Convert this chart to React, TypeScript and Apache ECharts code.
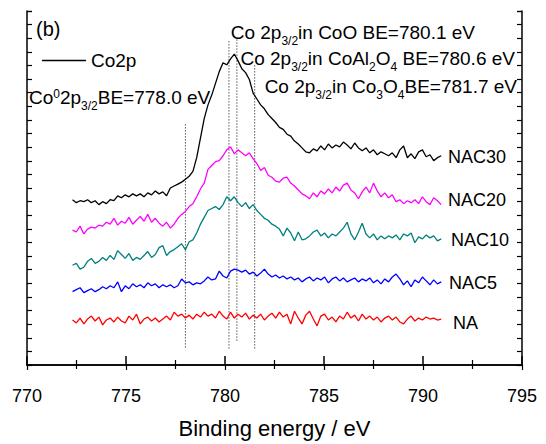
import React, { useEffect, useRef } from "react";
import * as echarts from "echarts";

const FONT = "'Liberation Sans', Arial, Helvetica, sans-serif";

// Binding energy grid of the recorded spectra (eV)
const ENERGY_START = 772.3;
const ENERGY_STEP = 0.19;

const SERIES_NAMES = ["NA", "NAC5", "NAC10", "NAC20", "NAC30"];
const SERIES_COLORS = ["#ff0000", "#0000ff", "#008080", "#ff00ff", "#000000"];

// Intensities (arbitrary units, offset for display)
const NA = [
  46, 43, 48, 42, 47, 50, 45, 49, 41, 46,
  48, 44, 49, 45, 43, 50, 46, 52, 42, 47,
  49, 45, 48, 44, 47, 50, 46, 54, 50, 52,
  48, 51, 47, 52, 49, 54, 50, 52, 48, 55,
  50, 47, 54, 48, 52, 49, 53, 47, 51, 48,
  52, 46, 50, 53, 48, 54, 49, 52, 42, 55,
  48, 42, 51, 55, 47, 40, 50, 52, 46, 49,
  44, 50, 47, 54, 48, 51, 45, 52, 47, 50,
  46, 49, 44, 48, 50, 46, 49, 44, 42, 47,
  50, 45, 48, 46, 49, 47, 48, 46, 47,
];
const NAC5 = [
  75, 77, 79, 74, 76, 78, 75, 77, 80, 78,
  81, 79, 85, 75, 81, 78, 83, 80, 82, 79,
  84, 81, 83, 79, 82, 80, 82, 79, 81, 88,
  84, 85, 82, 84, 83, 86, 90, 87, 88, 96,
  91, 89, 96, 98, 97, 95, 97, 93, 95, 91,
  94, 98, 93, 90, 92, 89, 91, 88, 90, 87,
  89, 85, 88, 90, 86, 89, 87, 90, 84, 88,
  90, 86, 89, 85, 87, 89, 85, 88, 86, 89,
  84, 87, 83, 88, 85, 90, 93, 88, 82, 86,
  80, 87, 84, 90, 86, 82, 87, 83, 85,
];
const NAC10 = [
  102, 104, 98, 100, 106, 109, 104, 106, 110, 107,
  112, 108, 117, 113, 109, 114, 107, 110, 108, 112,
  116, 110, 113, 120, 122, 112, 116, 118, 121, 124,
  118, 126, 128, 135, 144, 151, 158, 160, 162, 159,
  164, 172, 168, 172, 166, 162, 166, 160, 164, 158,
  154, 150, 148, 144, 142, 139, 132, 140, 135, 127,
  136, 128, 129, 132, 136, 138, 132, 135, 130, 134,
  132, 136, 140, 146, 134, 128, 136, 145, 134, 130,
  134, 128, 132, 129, 132, 130, 133, 128, 134, 132,
  135, 125, 131, 129, 133, 130, 132, 127, 129,
];
const NAC20 = [
  138, 136, 142, 134, 139, 141, 140, 143, 142, 146,
  144, 150, 143, 147, 145, 151, 144, 148, 152, 147,
  154, 146, 150, 145, 142, 146, 140, 144, 150, 154,
  157, 162, 165, 172, 180, 186, 200, 204, 208, 209,
  214, 220, 223, 216, 220, 217, 214, 217, 211, 206,
  199, 202, 194, 192, 188, 187, 191, 192, 186, 183,
  179, 175, 173, 170, 176, 172, 178, 175, 180, 176,
  182, 178, 184, 186, 179, 176, 170, 177, 182, 176,
  186, 178, 172, 176, 171, 174, 167, 169, 165, 168,
  166, 169, 165, 172, 167, 164, 171, 168, 164,
];
const NAC30 = [
  169, 166, 168, 167, 169, 166, 168, 164, 167, 165,
  169, 168, 173, 171, 174, 172, 175, 173, 175, 172,
  176, 174, 178, 175, 177, 173, 181, 183, 185, 187,
  190, 193, 198, 212, 232, 252, 266, 276, 288, 300,
  309, 307, 313, 318, 311, 303, 299, 292, 278, 272,
  266, 262, 256, 252, 248, 243, 241, 236, 234, 229,
  226, 222, 218, 217, 221, 219, 224, 220, 226, 222,
  225, 223, 228, 225, 221, 227, 222, 219, 222, 217,
  220, 215, 218, 216, 214, 217, 212, 220, 224, 212,
  216, 211, 218, 220, 213, 215, 209, 212, 214,
];

// Reference binding energies (dotted markers) and their vertical extents
const MARKER_ENERGIES = [778.0, 780.2, 780.6, 781.5];
const MARKER_TOP = [247, 331, 335, 308];
const MARKER_BOTTOM = [18, 17, 25, 17];

const X_MIN = 770;
const X_MAX = 795;
const X_INTERVAL = 5;
const Y_MAX = 362;
const Y_INTERVAL = Y_MAX / 26;

const RICH = {
  n: { fontSize: 19, fontFamily: FONT, fill: "#000", lineHeight: 19, verticalAlign: "top" },
  sub: { fontSize: 12, fontFamily: FONT, fill: "#000", lineHeight: 10, padding: [12, 0, 0, 0], verticalAlign: "top" },
  sup: { fontSize: 12, fontFamily: FONT, fill: "#000", lineHeight: 10, verticalAlign: "top" },
};

export default function App() {
  const ref = useRef<HTMLDivElement>(null);

  useEffect(() => {
    if (!ref.current) return;
    const chart = echarts.init(ref.current, null, { renderer: "svg" });
    const energies = NA.map((_, i) => +(ENERGY_START + ENERGY_STEP * i).toFixed(3));
    const allValues = [NA, NAC5, NAC10, NAC20, NAC30];

    const spectra = allValues.map((vals, k) => ({
      type: "line",
      name: k === 4 ? "Co2p" : SERIES_NAMES[k],
      data: energies.map((e, i) => [e, vals[i]]),
      showSymbol: false,
      symbol: "none",
      silent: true,
      lineStyle: { color: SERIES_COLORS[k], width: 1.3 },
      itemStyle: { color: SERIES_COLORS[k] },
      z: 3,
    }));

    const markers = MARKER_ENERGIES.map((e, k) => ({
      type: "line",
      name: "marker" + k,
      data: [
        [e, MARKER_BOTTOM[k]],
        [e, MARKER_TOP[k]],
      ],
      showSymbol: false,
      symbol: "none",
      silent: true,
      lineStyle: { color: "#000", width: 1, type: [1, 2] },
      z: 2,
    }));

    const axisLine = { show: true, lineStyle: { color: "#000", width: 1.5 } };

    const labelTexts = [
      { text: "NAC30", x: 448, y: 157 },
      { text: "NAC20", x: 448, y: 200 },
      { text: "NAC10", x: 451, y: 240 },
      { text: "NAC5", x: 449, y: 283 },
      { text: "NA", x: 453, y: 323 },
    ];

    chart.setOption({
      animation: false,
      backgroundColor: "#fff",
      grid: { left: 27, right: 24, top: 11, bottom: 71 },
      legend: {
        data: ["Co2p"],
        left: 42,
        top: 51,
        padding: 0,
        icon: "rect",
        itemWidth: 44,
        itemHeight: 1.5,
        selectedMode: false,
        itemStyle: { color: "#000" },
        textStyle: { fontSize: 19, color: "#000", fontFamily: FONT },
      },
      xAxis: [
        {
          type: "value",
          min: X_MIN,
          max: X_MAX,
          interval: X_INTERVAL,
          position: "bottom",
          axisLine,
          axisTick: { show: true, inside: true, length: 9, lineStyle: { color: "#000", width: 1.5 } },
          minorTick: { show: true, splitNumber: 2, length: 5, lineStyle: { color: "#000", width: 1.2 } },
          axisLabel: { show: true, margin: 22, fontSize: 18, color: "#000", fontFamily: FONT },
          splitLine: { show: false },
          name: "Binding energy / eV",
          nameLocation: "middle",
          nameGap: 52,
          nameTextStyle: { fontSize: 22, color: "#000", fontFamily: FONT },
        },
        {
          type: "value",
          min: X_MIN,
          max: X_MAX,
          interval: X_INTERVAL,
          position: "top",
          axisLine,
          axisTick: { show: true, inside: true, length: 5, lineStyle: { color: "#000", width: 1.2 } },
          minorTick: { show: true, splitNumber: 2, length: 4, lineStyle: { color: "#000", width: 1.2 } },
          axisLabel: { show: false },
          splitLine: { show: false },
        },
      ],
      yAxis: [
        {
          type: "value",
          min: 0,
          max: Y_MAX,
          interval: Y_INTERVAL,
          position: "left",
          axisLine,
          axisTick: { show: true, inside: true, length: 5, lineStyle: { color: "#000", width: 1.2 } },
          axisLabel: { show: false },
          splitLine: { show: false },
        },
        {
          type: "value",
          min: 0,
          max: Y_MAX,
          interval: Y_INTERVAL,
          position: "right",
          axisLine,
          axisTick: { show: true, inside: true, length: 5, lineStyle: { color: "#000", width: 1.2 } },
          axisLabel: { show: false },
          splitLine: { show: false },
        },
      ],
      series: [...spectra, ...markers],
      graphic: [
        {
          type: "text",
          x: 36,
          y: 29,
          style: { text: "(b)", fontSize: 20, fontFamily: FONT, fill: "#000", verticalAlign: "middle" },
        },
        {
          type: "text",
          x: 29,
          y: 88,
          style: { text: "{n|Co}{sup|0}{n|2p}{sub|3/2}{n|BE=778.0 eV}", rich: RICH, verticalAlign: "top", align: "left" },
        },
        {
          type: "text",
          x: 475,
          y: 23,
          style: { text: "{n|Co 2p}{sub|3/2}{n|in CoO BE=780.1 eV}", rich: RICH, verticalAlign: "top", align: "right" },
        },
        {
          type: "text",
          x: 515,
          y: 49,
          style: {
            text: "{n|Co 2p}{sub|3/2}{n|in CoAl}{sub|2}{n|O}{sub|4}{n| BE=780.6 eV}",
            rich: RICH,
            verticalAlign: "top",
            align: "right",
          },
        },
        {
          type: "text",
          x: 517,
          y: 77,
          style: {
            text: "{n|Co 2p}{sub|3/2}{n|in Co}{sub|3}{n|O}{sub|4}{n|BE=781.7 eV}",
            rich: RICH,
            verticalAlign: "top",
            align: "right",
          },
        },
        ...labelTexts.map((l) => ({
          type: "text",
          x: l.x,
          y: l.y,
          style: { text: l.text, fontSize: 18, fontFamily: FONT, fill: "#000", verticalAlign: "middle" },
        })),
      ],
    });

    return () => chart.dispose();
  }, []);

  return (
    <div
      ref={ref}
      style={{ position: "absolute", left: 0, top: 0, width: 546, height: 444, background: "#fff" }}
    />
  );
}
